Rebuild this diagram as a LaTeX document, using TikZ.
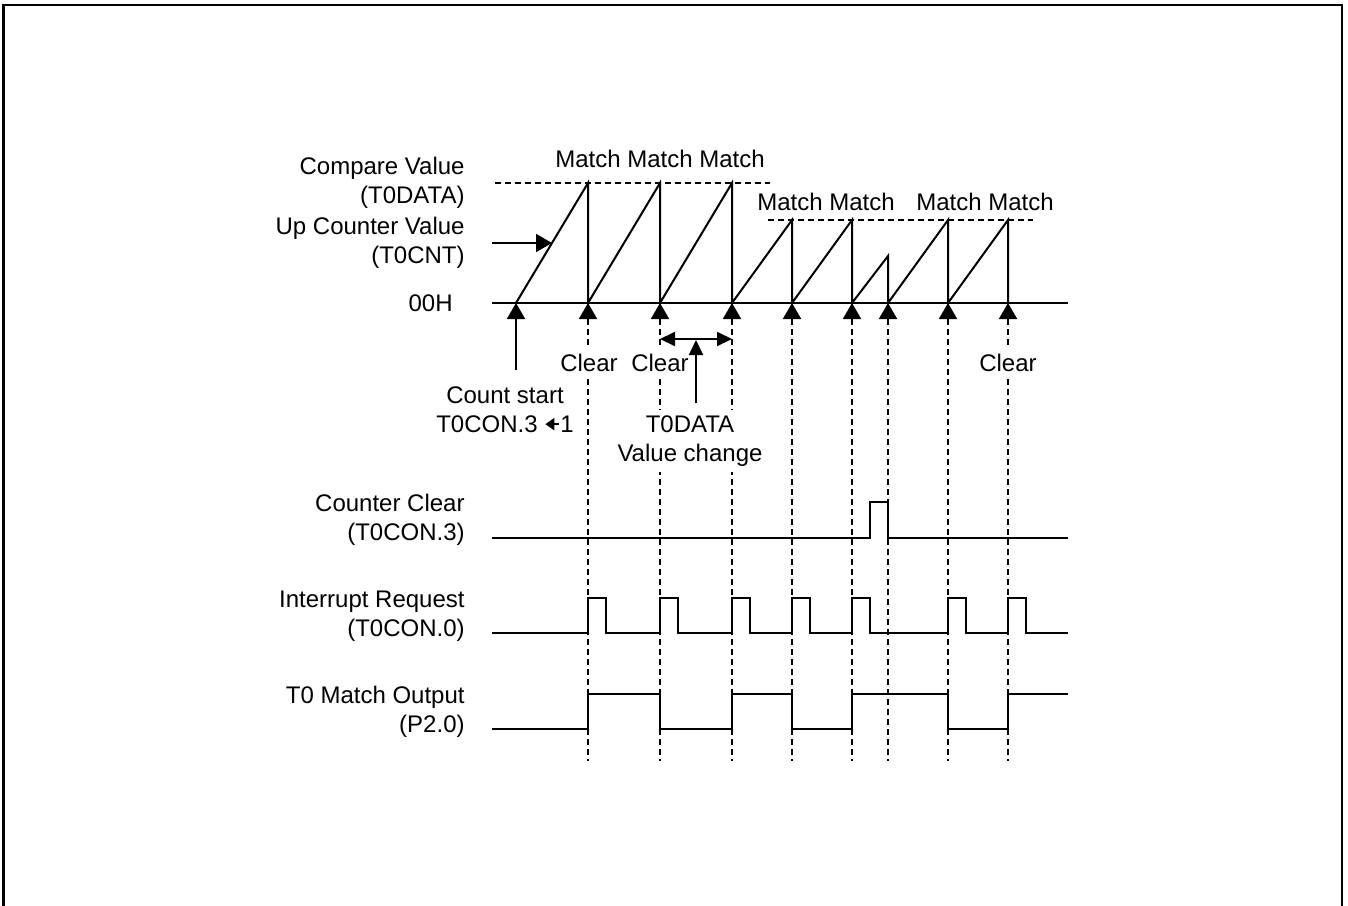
\documentclass[tikz,border=0pt]{standalone}
\usepackage{fontspec}
\setmainfont{Liberation Sans}
\usepackage{tikz}
\usetikzlibrary{arrows.meta}
\tikzset{
  wave/.style={line width=1pt, line join=miter},
  guide/.style={line width=0.8pt, dash pattern=on 3pt off 2pt},
  lbl/.style={font=\fontsize{12}{14.5}\selectfont, inner sep=1pt},
  sig/.style={lbl, anchor=east, align=right},
  note/.style={lbl, fill=white, inner ysep=3pt},
  uparrow/.style={-{Triangle[length=8pt,width=9pt]}, line width=1pt},
}
\begin{document}
\begin{tikzpicture}[x=0.5pt, y=-0.5pt]
  \useasboundingbox (0,0) rectangle (1348,905);
  % 外框
  \draw[line width=1.2pt] (3.5,5) rectangle (1342,930);

  % 事件位置
  \foreach \n/\x in {0/516,1/588,2/660,3/732,4/792,5/852,6/888,7/948,8/1008}
    \coordinate (e\n) at (\x,303);

  % 虚线
  \foreach \n in {1,...,8}
    \draw[guide] ([yshift=-8pt]e\n) -- ++(0,442);

  % 信号名称
  \node[sig] (cmp) at (467,183) {Compare Value\\(T0DATA)};
  \node[sig] (cnt) at (467,243) {Up Counter Value\\(T0CNT)};
  \node[sig] (zero) at (455,303) {00H};
  \node[sig] (clr) at (467,520) {Counter Clear\\(T0CON.3)};
  \node[sig] (irq) at (467,616) {Interrupt Request\\(T0CON.0)};
  \node[sig] (out) at (467,712) {T0 Match Output\\(P2.0)};

  % 比较值
  \draw[guide] (495,183) -- (770,183);
  \draw[guide] (768,220) -- (1033,220);
  \node[lbl] (m1) at (660,159) {Match Match Match};
  \node[lbl] (m2) at (826,202) {Match Match};
  \node[lbl] (m3) at (985,202) {Match Match};

  % 计数器锯齿波
  \draw[wave] (492,303) -- (1068,303);
  \draw[wave] (e0) -- (588,183) -- (e1) -- (660,183) -- (e2) -- (732,183) -- (e3)
    -- (792,220) -- (e4) -- (852,220) -- (e5) -- (888,256) -- (e6)
    -- (948,220) -- (e7) -- (1008,220) -- (e8);
  \coordinate (ramp) at (552,243);
  \draw[uparrow] ([xshift=12.5pt]cnt.east) -- (ramp);

  % 向上箭头
  \foreach \n in {1,...,8}
    \draw[uparrow] ([yshift=-8pt]e\n) -- (e\n);

  % 标注
  \node[note] (c1) at (589,363) {Clear};
  \node[note] (c2) at (660,363) {Clear};
  \node[note] (c3) at (1008,363) {Clear};
  \node[note, align=center] (start) at (505,410)
    {Count start\\T0CON.3 \tikz[baseline=-4.3pt]\draw[line width=1pt,{Triangle[length=4.5pt,width=6pt]}-] (0,0) -- (7pt,0);1};
  \node[note, align=center] (chg) at (690,441) {T0DATA\\Value change};
  \coordinate (cs) at (516,370);
  \draw[uparrow] (cs) -- (e0);
  \coordinate (dl) at (660,339);
  \coordinate (dr) at (732,339);
  \coordinate (dm) at (696,340);
  \draw[{Triangle[length=7.5pt,width=7pt]}-{Triangle[length=7.5pt,width=7pt]}, line width=1pt] (dl) -- (dr);
  \draw[-{Triangle[length=7.5pt,width=7pt]}, line width=1pt] ([yshift=3pt]chg.north -| dm) -- (dm);

  % 计数器清零
  \draw[wave] (492,538) -- (870,538) -- (870,502) -- (888,502) -- (888,538) -- (1068,538);
  % 中断请求
  \draw[wave] (492,633) foreach \p in {588,660,732,792,852,948,1008}
    { -- (\p,633) -- (\p,598) -- (\p+18,598) -- (\p+18,633) } -- (1068,633);
  % 匹配输出
  \draw[wave] (492,729) -- (588,729) -- (588,694) -- (660,694) -- (660,729) -- (732,729)
    -- (732,694) -- (792,694) -- (792,729) -- (852,729) -- (852,694) -- (948,694)
    -- (948,729) -- (1008,729) -- (1008,694) -- (1068,694);
\end{tikzpicture}
\end{document}
